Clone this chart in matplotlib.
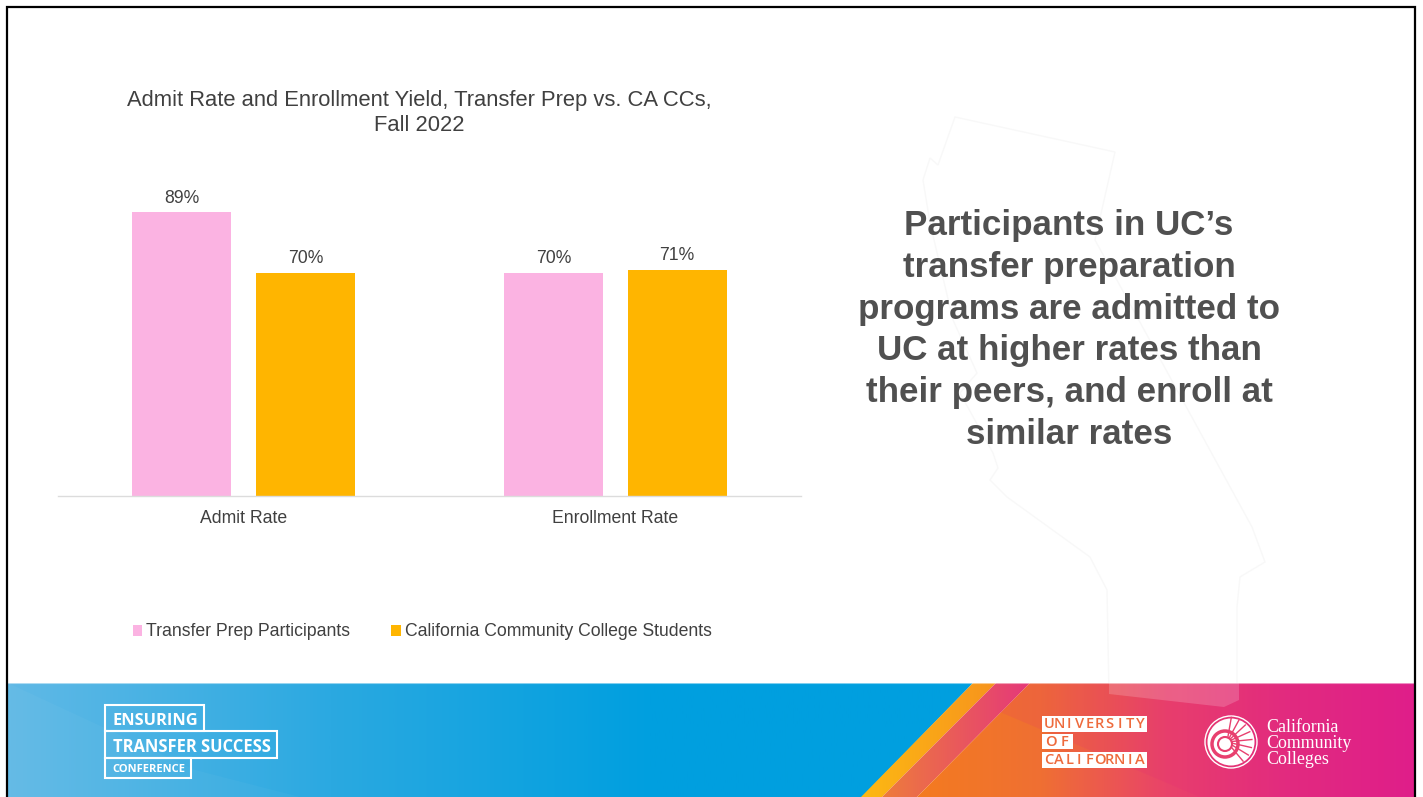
#!/usr/bin/env python3
"""Admit rate / enrollment yield slide: bar chart plus conference footer."""
import numpy as np
import matplotlib
matplotlib.use("Agg")
import matplotlib.pyplot as plt
from matplotlib.colors import LinearSegmentedColormap
from matplotlib.patches import Circle, Polygon, Rectangle

plt.rcParams["font.family"] = ["Liberation Sans", "DejaVu Sans"]

W, H = 1423, 797

# chart data
categories = ["Admit Rate", "Enrollment Rate"]
series_names = ["Transfer Prep Participants", "California Community College Students"]
transfer_prep = [89, 70]
community_college = [70, 71]

PINK = "#FBB3E2"
GOLD = "#FFB500"
TEXT = "#404040"

title = "Admit Rate and Enrollment Yield, Transfer Prep vs. CA CCs,\nFall 2022"
headline = ("Participants in UC\u2019s\ntransfer preparation\nprograms are admitted to\n"
            "UC at higher rates than\ntheir peers, and enroll at\nsimilar rates")

# faint state outline behind the headline (pixel coordinates)
state_outline = [(955, 117), (1115, 152), (1095, 240), (1252, 527), (1265, 562), (1240, 577),
                 (1237, 607), (1237, 690), (1224, 707), (1109, 694), (1107, 590), (1090, 557),
                 (1007, 497), (990, 480), (998, 468), (993, 453), (960, 393), (977, 373),
                 (953, 320), (930, 223), (923, 180), (930, 158), (938, 165)]


def gradient_poly(ax, pts, stops, x0, x1, zorder=1):
    """Fill a polygon with a horizontal colour gradient."""
    cmap = LinearSegmentedColormap.from_list("g", stops)
    img = ax.imshow(np.linspace(0, 1, 512)[None, :], cmap=cmap, aspect="auto",
                    extent=(x0, x1, H, 0), zorder=zorder)
    patch = Polygon(pts, closed=True, transform=ax.transData, fc="none", ec="none")
    ax.add_patch(patch)
    img.set_clip_path(patch)


fig = plt.figure(figsize=(W / 100, H / 100), dpi=100, facecolor="white")

# slide background in pixel coordinates
bg = fig.add_axes([0, 0, 1, 1], zorder=0)
bg.set_xlim(0, W)
bg.set_ylim(H, 0)
bg.axis("off")

bg.add_patch(Polygon(state_outline, closed=True, fc="#FFFFFF", ec="#F8F8F8", lw=1, zorder=0.5))

top, bot = 683, H
right = 1415
gradient_poly(bg, [(8, top), (973, top), (862, bot), (8, bot)],
              ["#60B9E6", "#2BA9E1", "#009FDF", "#009FDF"], 8, 973, zorder=1)
gradient_poly(bg, [(973, top), (996, top), (882, bot), (861, bot)],
              ["#FDB913", "#F7941D"], 860, 996, zorder=2)
gradient_poly(bg, [(996, top), (1030, top), (917, bot), (882, bot)],
              ["#EE7D3B", "#E5387A"], 880, 1030, zorder=2)
gradient_poly(bg, [(1030, top), (right, top), (right, bot), (917, bot)],
              ["#F47B20", "#EF6F33", "#E9436A", "#E32C80", "#DF1E8C"], 917, right, zorder=2)
# lighter facets and the tail of the state shape
bg.add_patch(Polygon([(8, top), (8, bot), (300, bot), (195, 770)], fc="white", alpha=0.03, ec="none", zorder=3))
bg.add_patch(Polygon([(1109, top), (1239, top), (1239, 700), (1224, 707), (1109, 694)],
                     fc="white", alpha=0.18, ec="none", zorder=3))
bg.add_patch(Polygon([(1030, top), (right, top), (right, bot), (1200, bot), (1000, 712)],
                     fc="#E0207F", alpha=0.12, ec="none", zorder=2.5))
bg.plot([8, right], [top, top], color="white", alpha=0.5, lw=0.8, zorder=3)

# slide frame
bg.plot([7, 7, right, right], [H, 7, 7, H], color="black", lw=1.6, zorder=6, solid_joinstyle="miter")

# conference logo
for x0, y0, x1, y1 in [(105, 705, 204, 731), (105, 731, 277, 758), (105, 758, 191, 778)]:
    bg.add_patch(Rectangle((x0, y0), x1 - x0, y1 - y0, fc="none", ec="white", lw=1.5, zorder=5))
logo_font = dict(family="Open Sans", weight="bold", color="white", va="center", ha="left", zorder=5)
bg.text(113, 721, "ENSURING", fontsize=11.8, **logo_font)
bg.text(113, 747, "TRANSFER SUCCESS", fontsize=11.9, **logo_font)
bg.text(112, 770, "CONFERENCE", fontsize=8, **logo_font)

# UC logo, letters spread out to fill each white bar
uc_font = dict(family="Open Sans", weight="semibold", color="#EE6A3C", va="center", ha="center", zorder=5, fontsize=10.5)
for x0, y0, x1, y1, word in [(1042, 716, 1147, 732, "UNIVERSITY"), (1042, 734, 1073, 749, "OF"),
                             (1042, 752, 1147, 768, "CALIFORNIA")]:
    bg.add_patch(Rectangle((x0, y0), x1 - x0, y1 - y0, fc="white", ec="none", zorder=4))
    step = (x1 - x0 - 4) / len(word)
    for i, ch in enumerate(word):
        bg.text(x0 + 2 + step * (i + 0.5), (y0 + y1) / 2 + 0.5, ch, **uc_font)

# community colleges logo
cx, cy = 1231, 742
bg.add_patch(Circle((cx, cy), 26, fc="none", ec="white", lw=1, zorder=4))
bg.add_patch(Circle((cx, cy), 23.5, fc="white", ec="none", zorder=4))
for ang in np.linspace(-80, 50, 8):
    a = np.deg2rad(ang)
    bg.plot([cx - 4 + 4 * np.cos(a), cx - 4 + 25 * np.cos(a)], [cy + 4 * np.sin(a), cy + 25 * np.sin(a)],
            color="#E8406F", lw=1, zorder=5)
bg.add_patch(Circle((cx - 6, cy + 2), 13, fc="none", ec="#E8406F", lw=2.5, zorder=5))
bg.add_patch(Circle((cx - 6, cy + 2), 7, fc="white", ec="#E8406F", lw=1.5, zorder=5))
for y, line in zip([727, 743, 759], ["California", "Community", "Colleges"]):
    bg.text(1266, y, line, family="Liberation Serif", color="white", fontsize=12.9, va="center", ha="left", zorder=5)

# bar chart
ax = fig.add_axes([58 / W, 1 - 496 / H, 743 / W, 318.6 / H], zorder=2)
ax.patch.set_alpha(0)
x = np.arange(len(categories))
width = 0.2665
offset = 0.1665
bars_a = ax.bar(x - offset, transfer_prep, width, color=PINK, label=series_names[0])
bars_b = ax.bar(x + offset, community_college, width, color=GOLD, label=series_names[1])
for bars, vals in [(bars_a, transfer_prep), (bars_b, community_college)]:
    ax.bar_label(bars, labels=[f"{v}%" for v in vals], padding=4, fontsize=12.7, color=TEXT)
ax.set_xlim(-0.5, 1.5)
ax.set_ylim(0, 100)
ax.set_yticks([])
ax.set_xticks(x)
ax.set_xticklabels(categories, fontsize=12.7, color=TEXT)
ax.tick_params(axis="x", length=0, pad=10)
for side in ("top", "left", "right"):
    ax.spines[side].set_visible(False)
ax.spines["bottom"].set_color("#DCDCDC")
ax.spines["bottom"].set_linewidth(1)

fig.text(419 / W, 1 - 113 / H, title, ha="center", va="center", fontsize=15.8, color=TEXT, linespacing=1.3, zorder=3)

handles, labels = ax.get_legend_handles_labels()
fig.legend(handles, labels, loc="center left", bbox_to_anchor=(115 / W, 1 - 632 / H), ncol=2, frameon=False,
           fontsize=12.7, labelcolor=TEXT, handlelength=0.55, handleheight=0.55,
           handletextpad=0.2, columnspacing=2.35, borderpad=0.5)

fig.text(1069 / W, 1 - 330 / H, headline, ha="center", va="center", fontsize=25.2, fontweight="bold",
         color="#505050", linespacing=1.34, zorder=3)

fig.savefig("out.png", dpi=100)
